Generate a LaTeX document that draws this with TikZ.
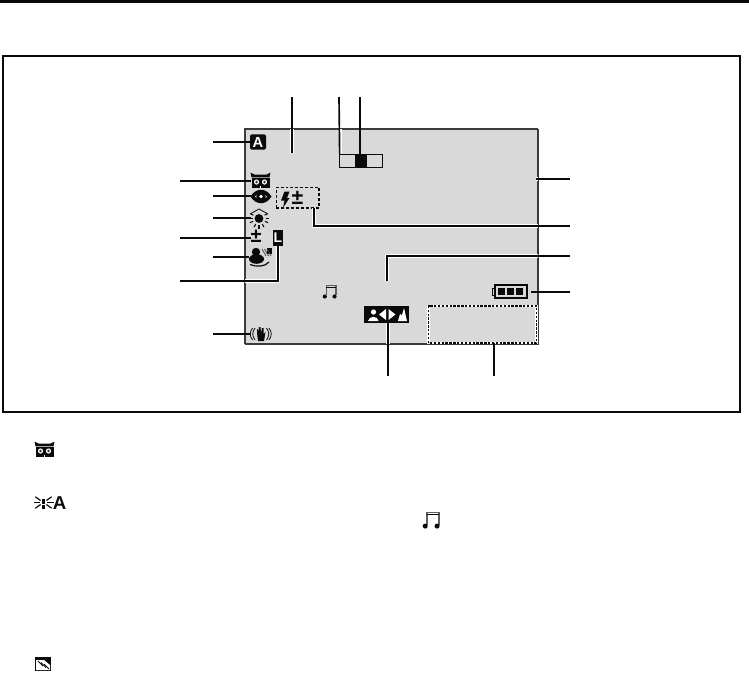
\documentclass[tikz,border=0pt]{standalone}
\usepackage{fontspec}
\setmainfont{Liberation Sans}
\usetikzlibrary{calc, positioning}
\definecolor{lcdgray}{HTML}{D9D9D9}
\definecolor{inkblack}{HTML}{0A0A0A}
\tikzset{
  leader/.style={draw=inkblack, line width=1.25pt},
  halo/.style={draw=white, line width=2.7pt},
  iconspot/.style={inner sep=0pt, outer sep=0pt},
  badge/.style={fill=inkblack, text=white, font=\bfseries\fontsize{11}{11}\selectfont, rounded corners=1.2pt, inner sep=0pt},
  plusminus/.style={inner sep=0pt, outer sep=0pt, text=inkblack, font=\bfseries\fontsize{15}{15}\selectfont},
}
\newcommand{\owlicon}[1]{%
  \begin{scope}[shift={(#1)}]
    \fill[inkblack] (-0.5,-0.5) -- (3.5,1.5) -- (15.5,1.5) -- (19.5,-0.5) -- (18.5,4.3) -- (0.5,4.3) -- cycle;
    \fill[inkblack] (0.5,5.2) rectangle (18.5,14.5);
    \fill[white] (5.5,9) circle (2.6) (13.5,9) circle (2.6);
    \fill[inkblack!85] (5.5,9) circle (1.4) (13.5,9) circle (1.4);
    \fill[white] (8.5,13) rectangle (10,14.5);
  \end{scope}}
\newcommand{\musicicon}[2]{%
  \begin{scope}[shift={(#1)}, scale=#2]
    \draw[inkblack!65, line width=0.9pt] (3.6,11.5) -- (3.6,0.5) -- (14.5,0.5) -- (14.5,11.5);
    \draw[inkblack, line width=0.7pt] (3.6,2.2) -- (14.5,2.2);
    \fill[inkblack] (2,12.8) circle (2.3) (12.8,12.8) circle (2.3);
  \end{scope}}
\begin{document}
\begin{tikzpicture}[x=0.75pt, y=-0.75pt]
  \useasboundingbox (0,0) rectangle (749,672);

  % Page rule and frame
  \fill[inkblack] (0,0) rectangle (749,3);
  \draw[inkblack, line width=1.6pt] (3,56) rectangle (740,412);

  % LCD screen
  \fill[lcdgray] (245,129) rectangle (538,344);
  \draw[inkblack!80, line width=0.9pt] (245,344) -- (245,129) -- (538,129);
  \draw[inkblack!80, line width=1.2pt] (245,344) -- (538,344) -- (538,129);

  % Free ends of the leaders
  \coordinate (endtopa) at (292,97);
  \coordinate (endtopb) at (339,97);
  \coordinate (endtopc) at (360,97);
  \coordinate (tiptopa) at (292,153);
  \coordinate (endbadge) at (213,142);
  \coordinate (endowl) at (180,181);
  \coordinate (endeye) at (213,196);
  \coordinate (endsun) at (213,218);
  \coordinate (endplus) at (180,238);
  \coordinate (endperson) at (213,257);
  \coordinate (endlock) at (180,281);
  \coordinate (endhand) at (213,334);
  \coordinate (endscreen) at (570,179);
  \coordinate (tipscreen) at (536,179);
  \coordinate (endflash) at (570,226);
  \coordinate (tapflash) at (314,208);
  \coordinate (endmusic) at (570,256);
  \coordinate (tipmusic) at (387,281);
  \coordinate (endbatt) at (570,292);
  \coordinate (endzoom) at (388,376);
  \coordinate (enddate) at (494,376);

  % Auto badge
  \node[badge, minimum width=12pt, minimum height=11.5pt] (badgeauto) at (258,142) {A};

  % Owl
  \node[iconspot, minimum width=14pt, minimum height=10.5pt] (owlspot) at (260.5,181) {};
  \owlicon{251,173}

  % Eye
  \node[iconspot, minimum width=15pt, minimum height=10pt] (eyespot) at (261,196) {};
  \fill[inkblack, even odd rule] (250.5,196.5) .. controls (256,187.5) and (266,187.5) .. (271.5,196.5) .. controls (266,205.5) and (256,205.5) .. (250.5,196.5)
    (254.5,196.5) .. controls (258,192.5) and (264,192.5) .. (267.5,196.5) .. controls (264,200.5) and (258,200.5) .. (254.5,196.5);
  \fill[inkblack] (261,196.5) circle (4.8);
  \fill[white] (261,196.5) circle (1.8);

  % Sun
  \node[iconspot, minimum width=12pt, minimum height=12pt] (sunspot) at (259,218) {};
  \fill[inkblack] (259,218.5) circle (4.4);
  \draw[inkblack, line width=0.6pt] (250,214) -- (259,209) -- (268,214);
  \foreach \ang in {0,180,-30,-150,60,90,120,25,155}
    \draw[inkblack, line width=0.8pt] (259,218.5) ++(\ang:6.5) -- ++(\ang:3.5);

  % Plus-minus
  \node[iconspot, minimum width=8pt, minimum height=8pt] (plusspot) at (256,238) {};
  \node[plusminus] (pluslabel) at (256,236.5) {±};

  % Lock badge
  \node[badge, rounded corners=0pt, minimum width=7.5pt, minimum height=12pt, font=\bfseries\fontsize{10.5}{11}\selectfont] (lockbadge) at (278,238) {L};

  % Person with wind
  \node[iconspot, minimum width=16pt, minimum height=13pt] (personspot) at (260,257) {};
  \fill[inkblack] (256,252) circle (4.2);
  \fill[inkblack] (256.5,259) ellipse (7.5 and 4.8);
  \draw[inkblack, line width=0.9pt] (250,264.5) .. controls (256,267) and (265,267) .. (269,262);
  \fill[inkblack] (267,248) rectangle (271.5,253.5);
  \foreach \off in {0,2.5,5}
    \draw[inkblack!75, line width=0.6pt] (262+\off,249) -- (266+\off,256);

  % Steady hand
  \node[iconspot, minimum width=16pt, minimum height=10pt] (handspot) at (261,334) {};
  \draw[inkblack, line width=0.6pt] (252.5,328) .. controls (249.5,332) and (249.5,336) .. (252.5,340);
  \draw[inkblack, line width=0.6pt] (255,328) .. controls (252,332) and (252,336) .. (255,340);
  \draw[inkblack, line width=0.6pt] (269,328) .. controls (272,332) and (272,336) .. (269,340);
  \draw[inkblack, line width=0.6pt] (266.5,328) .. controls (269.5,332) and (269.5,336) .. (266.5,340);
  \fill[inkblack] (257,333) -- (257,329) -- (258,329) -- (258.5,333) -- (259,327) -- (260.5,327) -- (261,333) -- (262,328) -- (263.5,328) -- (263.5,334) -- (265.5,332) -- (264,341) -- (258,341) -- cycle;

  % Flash compensation
  \node[iconspot, draw=inkblack, line width=1pt, dash pattern=on 2.2pt off 1.5pt, minimum width=32pt, minimum height=15.5pt] (flashbox) at (297.5,197.5) {};
  \fill[inkblack] (284.5,191.5) -- (289.5,191.5) -- (287,198) -- (289.5,198) -- (283,208) -- (284.5,200.5) -- (281,200.5) -- cycle;
  \node[plusminus, font=\bfseries\fontsize{16}{16}\selectfont] (flashplus) at (297.5,197.5) {±};

  % Focus bar
  \node[iconspot, draw=inkblack, line width=1.1pt, minimum width=32pt, minimum height=10pt] (focusbar) at (361,161) {};
  \fill[inkblack] (355,154) rectangle (367,168);

  % Music note
  \node[iconspot, minimum width=11pt, minimum height=11pt] (notespot) at (330.5,292) {};
  \musicicon{323,285}{0.9}

  % Battery
  \node[iconspot, draw=inkblack, line width=1.1pt, minimum width=24pt, minimum height=9.7pt] (battbox) at (511,291.5) {};
  \draw[inkblack, line width=0.7pt] (495,288) -- (492.5,288) -- (492.5,295) -- (495,295);
  \foreach \xa in {498,507,516}
    \fill[inkblack] (\xa,288) rectangle ++(7,7);

  % Zoom bar
  \node[iconspot, fill=inkblack, minimum width=33.75pt, minimum height=12.75pt] (zoombar) at (386.5,314.5) {};
  \fill[white] (373.5,312) circle (2.6);
  \fill[white] (368,321) .. controls (369,315.5) and (378,315.5) .. (378.5,321) -- cycle;
  \fill[white] (386,309) -- (386,320) -- (379,314.5) -- cycle;
  \fill[white] (388.5,309) -- (388.5,320) -- (395.5,314.5) -- cycle;
  \fill[white] (398,321) -- (400,314) -- (402,315) -- (404,308) -- (407,321) -- cycle;

  % Date area
  \node[iconspot, minimum width=81pt, minimum height=27.75pt] (datebox) at (482.5,324.5) {};
  \draw[white, line width=2pt] (datebox.south west) rectangle (datebox.north east);
  \draw[inkblack, line width=1.2pt, dash pattern=on 1.8pt off 1.1pt] (datebox.south west) rectangle (datebox.north east);

  % Leaders from the left
  \draw[leader] (endbadge) -- (badgeauto.west);
  \draw[leader] (endowl) -- (owlspot.west);
  \draw[leader] (endeye) -- (eyespot.west);
  \draw[leader] (endsun) -- (sunspot.west);
  \draw[leader] (endplus) -- (plusspot.west);
  \draw[leader] (endperson) -- (personspot.west);
  \draw[leader] (endhand) -- (handspot.west);
  \draw[halo] (lockbadge.south) |- (245,281);
  \draw[leader] (lockbadge.south) |- (endlock);

  % Leaders from the top
  \draw[halo] (292,129) -- (tiptopa);
  \draw[leader] (endtopa) -- (tiptopa);
  \draw[halo] (340.5,129) -- (340.5,154);
  \draw[leader] (endtopb) -- (focusbar.north west);
  \draw[leader] (endtopc) -- (360,154);

  % Leaders from the right
  \draw[halo] (tipscreen) -- (538,179);
  \draw[leader] (endscreen) -- (tipscreen);
  \draw[halo] (tapflash) |- (538,226);
  \draw[leader] (tapflash) |- (endflash);
  \draw[halo] (tipmusic) |- (538,256);
  \draw[leader] (tipmusic) |- (endmusic);
  \draw[leader] (endbatt) -- ++(-39,0) coordinate (tipbatt);

  % Leaders from the bottom
  \draw[halo] (zoombar.south -| endzoom) -- (388,344);
  \draw[leader] (endzoom) -- (zoombar.south -| endzoom);
  \draw[leader] (enddate) -- (datebox.south -| enddate);

  % Legend icons
  \owlicon{35,442}
  \foreach \ang in {0,180,35,145,-35,-145}
    \draw[inkblack, line width=0.9pt] (43.5,502.5) ++(\ang:3.5) -- ++(\ang:6.5);
  \fill[inkblack] (42,499) rectangle (45,504);
  \fill[inkblack] (42,505) rectangle (45,509);
  \node[iconspot, text=inkblack, font=\bfseries\fontsize{14}{14}\selectfont] (legenda) at (59.5,503) {A};
  \musicicon{423,512}{1.1}
  \fill[inkblack] (35,657) rectangle (51,671);
  \fill[white] (36,660) -- (44,660) -- (50,665) -- (50,670) -- (36,670) -- cycle;
  \foreach \off in {0,3,6}
    \draw[inkblack, line width=0.6pt] (38+\off,661+0.5*\off) -- (43+\off,666+0.5*\off);
\end{tikzpicture}
\end{document}
